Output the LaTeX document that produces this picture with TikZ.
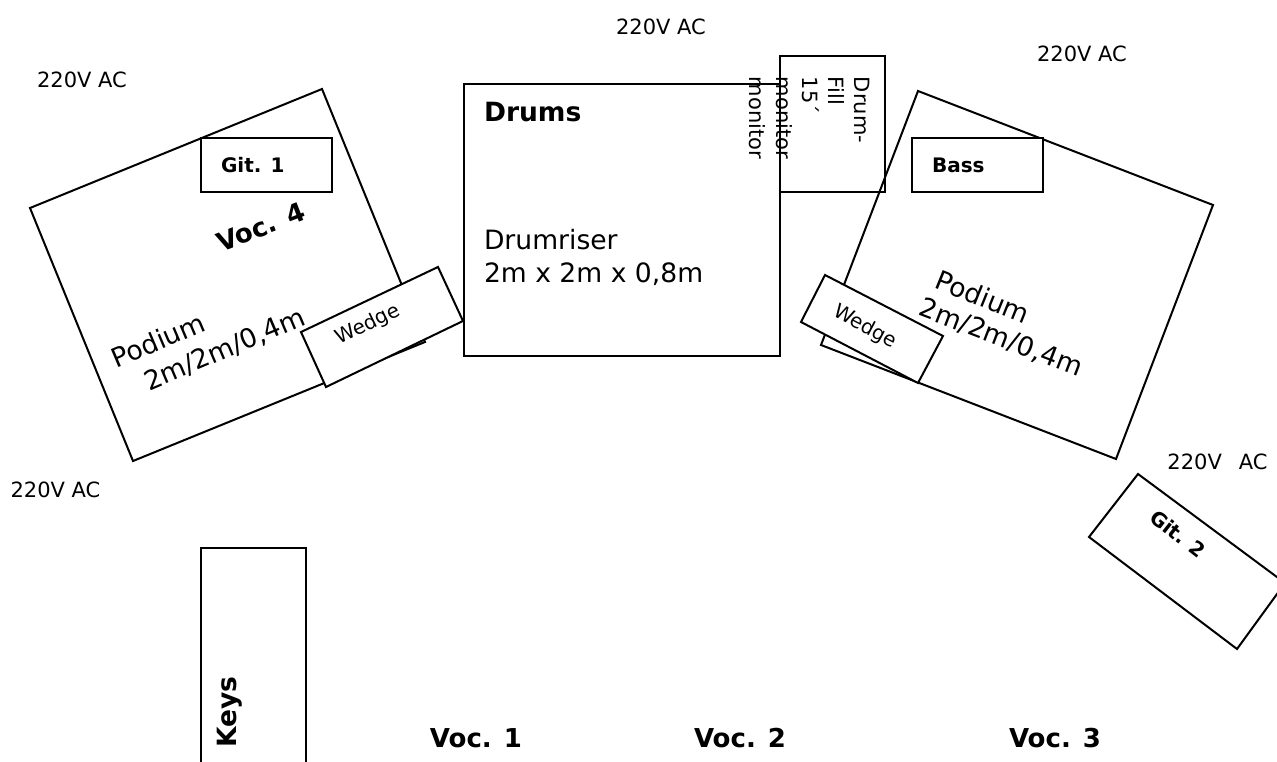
\documentclass[tikz,border=0pt]{standalone}
\usepackage{fontspec}
\setmainfont{DejaVu Sans}
\newcommand{\fpx}[1]{\fontsize{#1pt}{#1pt}\selectfont}
\tikzset{
  polyline/.style={draw=black,line width=2pt,fill=white,line join=miter},
  rectline/.style={draw=black,line width=2.3pt,fill=white,line join=miter},
  lab/.style={inner sep=0pt,outer sep=0pt,text=black,anchor=center},
  power/.style={lab,font=\fpx{21}},
  big/.style={lab,font=\fpx{26.6}},
  bigbold/.style={lab,font=\fpx{26}\bfseries},
  amp/.style={lab,font=\fpx{20}\bfseries},
  wedgetext/.style={lab,font=\fpx{20}},
  upright/.style={lab,font=\fpx{21},rotate=-90,anchor=base west},
}
\begin{document}
\begin{tikzpicture}[x=1pt,y=-1pt]
\useasboundingbox[fill=white] (0,0) rectangle (1277,762);
\clip (0,0) rectangle (1277,762);
% podiums
\draw[polyline] (322,89) -- (30,208) -- (133,461) -- (425,342) -- cycle;
\draw[polyline] (918,91) -- (1213,205) -- (1116,459) -- (821,345) -- cycle;
% amps on podiums
\draw[rectline] (201,138) rectangle (332,192);
\draw[rectline] (912,138) rectangle (1043,192);
% drum riser
\draw[rectline] (464,84) rectangle (780,356);
\node[upright] (mon1) at (749,77) {monitor};
% drum fill
\draw[rectline,fill=none] (780,56) rectangle (885,192);
\node[upright] (mon2) at (776,77) {monitor};
\node[upright] (d15) at (802,77) {15´};
\node[upright] (dfill) at (828,77) {Fill};
\node[upright] (ddrum) at (854,77) {Drum-};
% wedges
\draw[polyline] (438,267) -- (463,321) -- (326,387) -- (301,332) -- cycle;
\draw[polyline] (825,275) -- (943,336) -- (918,383) -- (801,322) -- cycle;
% git 2
\draw[polyline] (1138,474) -- (1285,583) -- (1237,649) -- (1089,537) -- cycle;
% keys
\draw[rectline] (306,775) -- (306,548) -- (201,548) -- (201,775);
% text
\node[power] (ac1) at (661,27) {220V AC};
\node[power] (ac2) at (1082,54) {220V AC};
\node[power] (ac3) at (82,80) {220V AC};
\node[power] (ac4) at (55.5,490) {220V AC};
\node[power] (ac5) at (1217.5,462) {220V\hspace{17pt}AC};
\node[bigbold,font=\fpx{26.5}\bfseries,anchor=west] (drums) at (484,112) {Drums};
\node[big,anchor=base west] (rise1) at (484,250) {Drumriser};
\node[big,anchor=base west] (rise2) at (484,282) {2m x 2m x 0,8m};
\node[amp,anchor=west] (git1) at (221,165) {Git. 1};
\node[amp,anchor=west] (bass) at (932,165) {Bass};
\node[bigbold,rotate=21] (voc4) at (261,227) {Voc. 4};
\node[big,rotate=23] (pl1) at (158,340) {Podium};
\node[big,rotate=23] (pl2) at (225,350) {2m/2m/0,4m};
\node[big,rotate=-22] (pr1) at (983,297) {Podium};
\node[big,rotate=-21] (pr2) at (1001,338) {2m/2m/0,4m};
\node[wedgetext,rotate=26] (w1) at (368,325) {Wedge};
\node[wedgetext,rotate=-28] (w2) at (865,327) {Wedge};
\node[amp,rotate=-38] (git2) at (1178,534) {Git. 2};
\node[bigbold,font=\fpx{26.5}\bfseries,rotate=90] (keys) at (230,712) {Keys};
\node[bigbold] (v1) at (476,738) {Voc. 1};
\node[bigbold] (v2) at (740,738) {Voc. 2};
\node[bigbold] (v3) at (1055,738) {Voc. 3};
\end{tikzpicture}
\end{document}
